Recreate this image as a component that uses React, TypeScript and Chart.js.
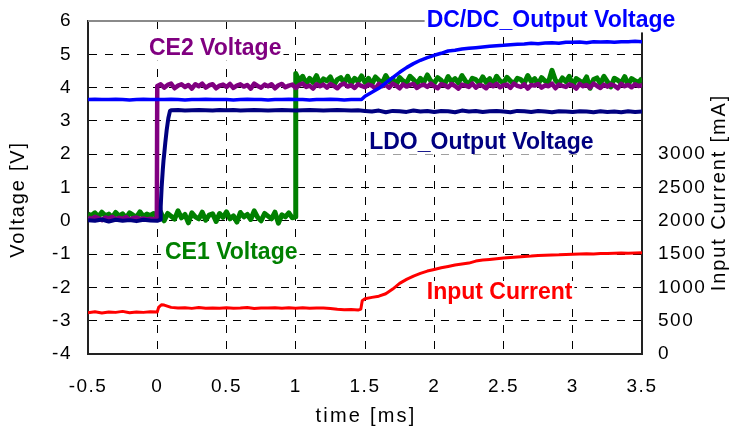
import React, { useEffect, useRef } from 'react';
import { Chart, registerables } from 'chart.js';

Chart.register(...registerables);

// ---- sampling grids (ms) ----
const TIME_FINE = [
  -0.5, -0.475, -0.45, -0.425, -0.4, -0.375, -0.35, -0.325, -0.3, -0.275,
  -0.25, -0.225, -0.2, -0.175, -0.15, -0.125, -0.1, -0.075, -0.05, -0.025,
  0, 0.025, 0.05, 0.075, 0.1, 0.125, 0.15, 0.175, 0.2, 0.225,
  0.25, 0.275, 0.3, 0.325, 0.35, 0.375, 0.4, 0.425, 0.45, 0.475,
  0.5, 0.525, 0.55, 0.575, 0.6, 0.625, 0.65, 0.675, 0.7, 0.725,
  0.75, 0.775, 0.8, 0.825, 0.85, 0.875, 0.9, 0.925, 0.95, 0.975,
  1, 1.025, 1.05, 1.075, 1.1, 1.125, 1.15, 1.175, 1.2, 1.225,
  1.25, 1.275, 1.3, 1.325, 1.35, 1.375, 1.4, 1.425, 1.45, 1.475,
  1.5, 1.525, 1.55, 1.575, 1.6, 1.625, 1.65, 1.675, 1.7, 1.725,
  1.75, 1.775, 1.8, 1.825, 1.85, 1.875, 1.9, 1.925, 1.95, 1.975,
  2, 2.025, 2.05, 2.075, 2.1, 2.125, 2.15, 2.175, 2.2, 2.225,
  2.25, 2.275, 2.3, 2.325, 2.35, 2.375, 2.4, 2.425, 2.45, 2.475,
  2.5, 2.525, 2.55, 2.575, 2.6, 2.625, 2.65, 2.675, 2.7, 2.725,
  2.75, 2.775, 2.8, 2.825, 2.85, 2.875, 2.9, 2.925, 2.95, 2.975,
  3, 3.025, 3.05, 3.075, 3.1, 3.125, 3.15, 3.175, 3.2, 3.225,
  3.25, 3.275, 3.3, 3.325, 3.35, 3.375, 3.4, 3.425, 3.45, 3.475,
  3.5,
];

const TIME_COARSE = [
  -0.5, -0.45, -0.4, -0.35, -0.3, -0.25, -0.2, -0.15, -0.1, -0.05,
  0, 0.05, 0.1, 0.15, 0.2, 0.25, 0.3, 0.35, 0.4, 0.45,
  0.5, 0.55, 0.6, 0.65, 0.7, 0.75, 0.8, 0.85, 0.9, 0.95,
  1, 1.05, 1.1, 1.15, 1.2, 1.25, 1.3, 1.35, 1.4, 1.45,
  1.5, 1.55, 1.6, 1.65, 1.7, 1.75, 1.8, 1.85, 1.9, 1.95,
  2, 2.05, 2.1, 2.15, 2.2, 2.25, 2.3, 2.35, 2.4, 2.45,
  2.5, 2.55, 2.6, 2.65, 2.7, 2.75, 2.8, 2.85, 2.9, 2.95,
  3, 3.05, 3.1, 3.15, 3.2, 3.25, 3.3, 3.35, 3.4, 3.45,
  3.5,
];

// ---- CE1 Voltage [V] on TIME_FINE ----
const CE1_V = [
  0.2, 0.16, 0.24, 0.12, 0.26, 0.15, 0.2, 0.1, 0.25, 0.14,
  0.21, 0.08, 0.24, 0.17, 0.11, 0.27, 0.13, 0.2, 0.16, 0.22,
  0.1, 0.26, 0.0, 0.22, 0.14, 0.05, 0.3, 0.09, 0.19, -0.06,
  0.24, 0.12, 0.06, 0.26, 0.02, 0.17, 0.21, -0.02, 0.22, 0.1,
  0.27, 0.06, 0.15, -0.04, 0.25, 0.12, 0.19, 0.04, 0.3, 0.1,
  0.0, 0.22, 0.14, 0.06, 0.26, -0.07, 0.18, 0.12, 0.24, 0.09,
  4.42, 4.2, 4.34, 4.12, 4.28, 4.16, 4.36, 4.1, 4.26, 4.2,
  4.32, 4.08, 4.24, 4.3, 4.14, 4.34, 4.12, 4.28, 4.18, 4.35,
  4.16, 4.28, 4.1, 4.32, 4.22, 4.13, 4.36, 4.18, 4.27, 4.08,
  4.3, 4.2, 4.14, 4.34, 4.24, 4.12, 4.28, 4.16, 4.38, 4.2,
  4.13, 4.3, 4.22, 4.1, 4.33, 4.18, 4.27, 4.14, 4.36, 4.2,
  4.1, 4.28, 4.24, 4.13, 4.32, 4.16, 4.27, 4.08, 4.34, 4.2,
  4.14, 4.31, 4.2, 4.12, 4.28, 4.24, 4.13, 4.36, 4.18, 4.27,
  4.1, 4.3, 4.2, 4.16, 4.52, 4.22, 4.12, 4.29, 4.18, 4.34,
  4.06, 4.27, 4.2, 4.14, 4.32, 3.98, 4.24, 4.29, 4.12, 4.34,
  4.18, 4.02, 4.28, 4.22, 4.14, 4.33, 4.09, 4.27, 4.2, 4.16,
  4.28,
];
const CE1_EDGE = [[0.998, 0.12]];

// ---- CE2 Voltage [V] on TIME_FINE ----
const CE2_V = [
  0.1, 0.05, 0.12, 0.08, 0.02, 0.1, 0.06, 0.12, 0.04, 0.09,
  0.06, 0.11, 0.03, 0.08, 0.1, 0.05, 0.07, 0.04, 0.06, 0.05,
  4.05, 4.1, 4.0, 4.08, 4.12, 3.98, 4.06, 4.1, 4.02, 4.08,
  3.97, 4.1, 4.04, 4.12, 4.0, 4.07, 4.1, 3.98, 4.06, 4.09,
  4.02, 4.11, 3.99, 4.06, 4.1, 4.03, 4.08, 3.97, 4.12, 4.05,
  4.0, 4.09, 4.04, 4.1, 3.98, 4.07, 4.11, 4.01, 4.06, 4.09,
  3.99, 4.08, 4.12, 4.02, 4.06, 3.97, 4.1, 4.04, 4.09, 4.0,
  4.11, 4.05, 3.98, 4.08, 4.12, 4.03, 4.07, 3.99, 4.1, 4.05,
  4.01, 4.09, 4.06, 3.97, 4.11, 4.04, 4.08, 4.0, 4.12, 4.06,
  3.98, 4.1, 4.03, 4.08, 4.11, 3.99, 4.06, 4.09, 4.02, 4.12,
  4.04, 3.98, 4.1, 4.07, 4.01, 4.11, 4.05, 3.97, 4.09, 4.06,
  4.02, 4.12, 4.0, 4.08, 4.05, 3.98, 4.1, 4.04, 4.11, 4.01,
  4.07, 4.09, 3.99, 4.12, 4.05, 4.02, 4.1, 3.97, 4.08, 4.06,
  4.11, 4.0, 4.07, 4.04, 4.12, 3.98, 4.09, 4.05, 4.02, 4.1,
  4.06, 3.97, 4.11, 4.04, 4.08, 4.0, 4.12, 4.05, 3.99, 4.09,
  4.03, 4.1, 4.06, 3.98, 4.11, 4.04, 4.08, 4.01, 4.1, 4.05,
  4.07,
];
const CE2_EDGE = [[-0.003, 0.05]];

// ---- LDO_Output Voltage [V] on TIME_COARSE ----
const LDO_V = [
  0.02, 0.0, 0.04, -0.02, 0.03, 0.0, 0.02, -0.01, 0.03, 0.01,
  0.0, 2.0, 3.32, 3.33, 3.31, 3.32, 3.33, 3.32, 3.31, 3.33,
  3.32, 3.33, 3.31, 3.32, 3.33, 3.32, 3.31, 3.32, 3.33, 3.32,
  3.31, 3.32, 3.33, 3.32, 3.31, 3.32, 3.33, 3.32, 3.31, 3.32,
  3.3, 3.28, 3.31, 3.26, 3.3, 3.29, 3.27, 3.31, 3.28, 3.3,
  3.27, 3.3, 3.29, 3.26, 3.31, 3.28, 3.3, 3.27, 3.29, 3.3,
  3.28, 3.26, 3.3, 3.29, 3.27, 3.3, 3.28, 3.26, 3.29, 3.28,
  3.27, 3.29, 3.28, 3.26, 3.29, 3.27, 3.28, 3.26, 3.29, 3.27,
  3.28,
];
const LDO_EDGE = [
  [0.02, 0.03], [0.025, 0.43], [0.032, 1.03], [0.04, 1.53], [0.045, 1.8],
  [0.058, 2.34], [0.068, 2.72], [0.08, 3.08], [0.092, 3.3],
];

// ---- DC/DC_Output Voltage [V] on TIME_COARSE ----
const DCDC_V = [
  3.64, 3.65, 3.64, 3.64, 3.65, 3.64, 3.63, 3.64, 3.65, 3.64,
  3.64, 3.64, 3.65, 3.64, 3.63, 3.64, 3.64, 3.65, 3.64, 3.64,
  3.64, 3.63, 3.64, 3.65, 3.64, 3.64, 3.63, 3.64, 3.64, 3.65,
  3.64, 3.64, 3.63, 3.64, 3.64, 3.65, 3.64, 3.63, 3.64, 3.64,
  3.74, 3.86, 3.98, 4.14, 4.3, 4.46, 4.6, 4.72, 4.82, 4.9,
  4.97, 5.03, 5.1, 5.12, 5.16, 5.18, 5.2, 5.22, 5.24, 5.26,
  5.27, 5.29, 5.3, 5.31, 5.33, 5.32, 5.34, 5.35, 5.33, 5.36,
  5.36, 5.37, 5.35, 5.38, 5.37, 5.38, 5.36, 5.38, 5.38, 5.39,
  5.38,
];
const DCDC_EDGE = [[1.475, 3.64]];

// ---- Input Current [mA] on TIME_COARSE ----
const IIN_MA = [
  620, 635, 615, 630, 625, 640, 618, 630, 625, 635,
  630, 735, 700, 690, 695, 685, 698, 688, 692, 686,
  694, 688, 690, 697, 684, 692, 689, 695, 687, 693,
  688, 694, 686, 691, 689, 684, 672, 665, 668, 660,
  830, 850, 868, 905, 975, 1060, 1120, 1170, 1210, 1245,
  1270, 1295, 1315, 1335, 1350, 1365, 1395, 1410, 1420, 1430,
  1440, 1450, 1458, 1465, 1470, 1478, 1483, 1488, 1490, 1495,
  1497, 1500, 1505, 1503, 1508, 1510, 1512, 1515, 1513, 1518,
  1520,
];
const IIN_EDGE = [[0.01, 700], [0.03, 740], [1.47, 675], [1.48, 800]];

// ---- tick values ----
const X_TICKS = [-0.5, 0, 0.5, 1, 1.5, 2, 2.5, 3, 3.5];
const Y_TICKS = [-4, -3, -2, -1, 0, 1, 2, 3, 4, 5, 6];
const Y2_TICKS = [0, 500, 1000, 1500, 2000, 2500, 3000];

// ---- in-plot labels (anchor: left/baseline, in data units) ----
const SERIES_LABELS = [
  { text: 'DC/DC_Output Voltage', color: '#0000FF', t: 1.945, v: 5.83 },
  { text: 'CE2 Voltage', color: '#800080', t: -0.06, v: 4.98 },
  { text: 'LDO_Output Voltage', color: '#000080', t: 1.53, v: 2.16 },
  { text: 'CE1 Voltage', color: '#008000', t: 0.056, v: -1.15 },
  { text: 'Input Current', color: '#FF0000', t: 1.946, v: -2.36 },
];
const LABEL_SIZE = 23;

const FONT = '"Liberation Sans", Arial, sans-serif';

function buildPoints(times: number[], values: number[], edges: number[][]) {
  const n = Math.min(times.length, values.length);
  const pts: { x: number; y: number }[] = [];
  for (let i = 0; i < n; i++) pts.push({ x: times[i], y: values[i] });
  edges.forEach(([x, y]) => pts.push({ x, y }));
  pts.sort((a, b) => a.x - b.x);
  return pts;
}

const overlayPlugin = {
  id: 'overlay',
  beforeDraw(chart: any) {
    const ctx = chart.ctx;
    ctx.save();
    ctx.fillStyle = '#ffffff';
    ctx.fillRect(0, 0, chart.width, chart.height);
    ctx.restore();
    ctx.letterSpacing = '1.5px';
  },
  beforeDatasetsDraw(chart: any) {
    const { ctx, chartArea } = chart;
    ctx.save();
    ctx.strokeStyle = '#8a8a8a';
    ctx.lineWidth = 2;
    ctx.beginPath();
    ctx.moveTo(chartArea.left, chartArea.top);
    ctx.lineTo(chartArea.right, chartArea.top);
    ctx.stroke();
    ctx.restore();
  },
  afterDatasetsDraw(chart: any) {
    const { ctx } = chart;
    const xs = chart.scales.x;
    const ys = chart.scales.y;
    ctx.save();
    ctx.letterSpacing = '0px';
    ctx.textAlign = 'left';
    ctx.textBaseline = 'alphabetic';
    ctx.font = `bold ${LABEL_SIZE}px ${FONT}`;
    SERIES_LABELS.forEach((l) => {
      const x = xs.getPixelForValue(l.t);
      const y = ys.getPixelForValue(l.v);
      const w = ctx.measureText(l.text).width;
      ctx.fillStyle = '#ffffff';
      ctx.fillRect(x - 2, y - LABEL_SIZE * 0.8, w + 4, LABEL_SIZE * 1.05);
      ctx.fillStyle = l.color;
      ctx.fillText(l.text, x, y);
    });
    ctx.restore();
  },
  afterDraw(chart: any) {
    const { ctx } = chart;
    ctx.save();
    ctx.fillStyle = '#000000';
    ctx.font = `20px ${FONT}`;
    ctx.textAlign = 'center';
    ctx.textBaseline = 'alphabetic';
    ctx.letterSpacing = '1.8px';
    ctx.save();
    ctx.translate(24, 199.5);
    ctx.rotate(-Math.PI / 2);
    ctx.fillText('Voltage [V]', 0, 0);
    ctx.restore();
    ctx.letterSpacing = '1.9px';
    ctx.save();
    ctx.translate(724.5, 192.5);
    ctx.rotate(-Math.PI / 2);
    ctx.fillText('Input Current [mA]', 0, 0);
    ctx.restore();
    ctx.letterSpacing = '2.2px';
    ctx.fillText('time [ms]', 366, 421.5);
    ctx.restore();
    ctx.letterSpacing = '0px';
  },
};

export default function App() {
  const canvasRef = useRef<HTMLCanvasElement | null>(null);

  useEffect(() => {
    if (!canvasRef.current) return;
    const tickFont = { family: FONT, size: 19 };
    const zeroPad = (s: any) => {
      s.paddingTop = 0;
      s.paddingBottom = 0;
      s.paddingLeft = 0;
      s.paddingRight = 0;
    };
    const chart = new Chart(canvasRef.current, {
      type: 'line',
      data: {
        datasets: [
          {
            label: 'Input Current',
            data: buildPoints(TIME_COARSE, IIN_MA, IIN_EDGE),
            borderColor: '#FF0000',
            borderWidth: 3,
            yAxisID: 'y2',
          },
          {
            label: 'DC/DC_Output Voltage',
            data: buildPoints(TIME_COARSE, DCDC_V, DCDC_EDGE),
            borderColor: '#0000FF',
            borderWidth: 3.5,
            yAxisID: 'y',
          },
          {
            label: 'LDO_Output Voltage',
            data: buildPoints(TIME_COARSE, LDO_V, LDO_EDGE),
            borderColor: '#000080',
            borderWidth: 4,
            yAxisID: 'y',
          },
          {
            label: 'CE2 Voltage',
            data: buildPoints(TIME_FINE, CE2_V, CE2_EDGE),
            borderColor: '#800080',
            borderWidth: 4.5,
            yAxisID: 'y',
          },
          {
            label: 'CE1 Voltage',
            data: buildPoints(TIME_FINE, CE1_V, CE1_EDGE),
            borderColor: '#008000',
            borderWidth: 5,
            yAxisID: 'y',
          },
        ],
      },
      options: {
        animation: false,
        responsive: false,
        devicePixelRatio: 1,
        layout: { padding: { left: 0, right: 0, top: 21, bottom: 0 } },
        elements: {
          point: { radius: 0, hoverRadius: 0 },
          line: { tension: 0, borderJoinStyle: 'round', borderCapStyle: 'butt' },
        },
        plugins: {
          legend: { display: false },
          tooltip: { enabled: false },
          title: { display: false },
        },
        events: [],
        scales: {
          x: {
            type: 'linear',
            min: -0.5,
            max: 3.5,
            afterBuildTicks: (s: any) => {
              s.ticks = X_TICKS.map((v) => ({ value: v }));
            },
            afterFit: (s: any) => {
              s.height = 79;
              zeroPad(s);
            },
            ticks: {
              font: tickFont,
              color: '#000',
              padding: 21,
              maxRotation: 0,
              autoSkip: false,
              callback: (v: any) => String(v),
            },
            grid: {
              drawTicks: false,
              color: (c: any) =>
                c.tick && (c.tick.value === -0.5 || c.tick.value === 3.5) ? 'rgba(0,0,0,0)' : '#000',
              lineWidth: 1,
            },
            border: { display: true, color: '#222', width: 2, dash: [8, 8] },
          },
          y: {
            type: 'linear',
            position: 'left',
            min: -4,
            max: 6,
            afterBuildTicks: (s: any) => {
              s.ticks = Y_TICKS.map((v) => ({ value: v }));
            },
            afterFit: (s: any) => {
              s.width = 88;
              zeroPad(s);
            },
            ticks: {
              font: tickFont,
              color: '#000',
              padding: 16,
              autoSkip: false,
              callback: (v: any) => String(v),
            },
            grid: {
              drawTicks: false,
              color: (c: any) =>
                c.tick && (c.tick.value === -4 || c.tick.value === 6) ? 'rgba(0,0,0,0)' : '#000',
              lineWidth: 1,
            },
            border: { display: true, color: '#222', width: 2, dash: [8, 8] },
          },
          y2: {
            type: 'linear',
            position: 'right',
            min: 0,
            max: 5000,
            afterBuildTicks: (s: any) => {
              s.ticks = Y2_TICKS.map((v) => ({ value: v }));
            },
            afterFit: (s: any) => {
              s.width = 91;
              zeroPad(s);
            },
            ticks: {
              font: tickFont,
              color: '#000',
              padding: 16,
              autoSkip: false,
              callback: (v: any) => String(v),
            },
            grid: { display: false, drawTicks: false },
            border: { display: true, color: '#222', width: 2 },
          },
        },
      },
      plugins: [overlayPlugin],
    } as any);
    return () => chart.destroy();
  }, []);

  return (
    <div style={{ position: 'absolute', left: 0, top: 0, width: 733, height: 433, background: '#fff' }}>
      <canvas ref={canvasRef} width={733} height={433} style={{ width: 733, height: 433, display: 'block' }} />
    </div>
  );
}
